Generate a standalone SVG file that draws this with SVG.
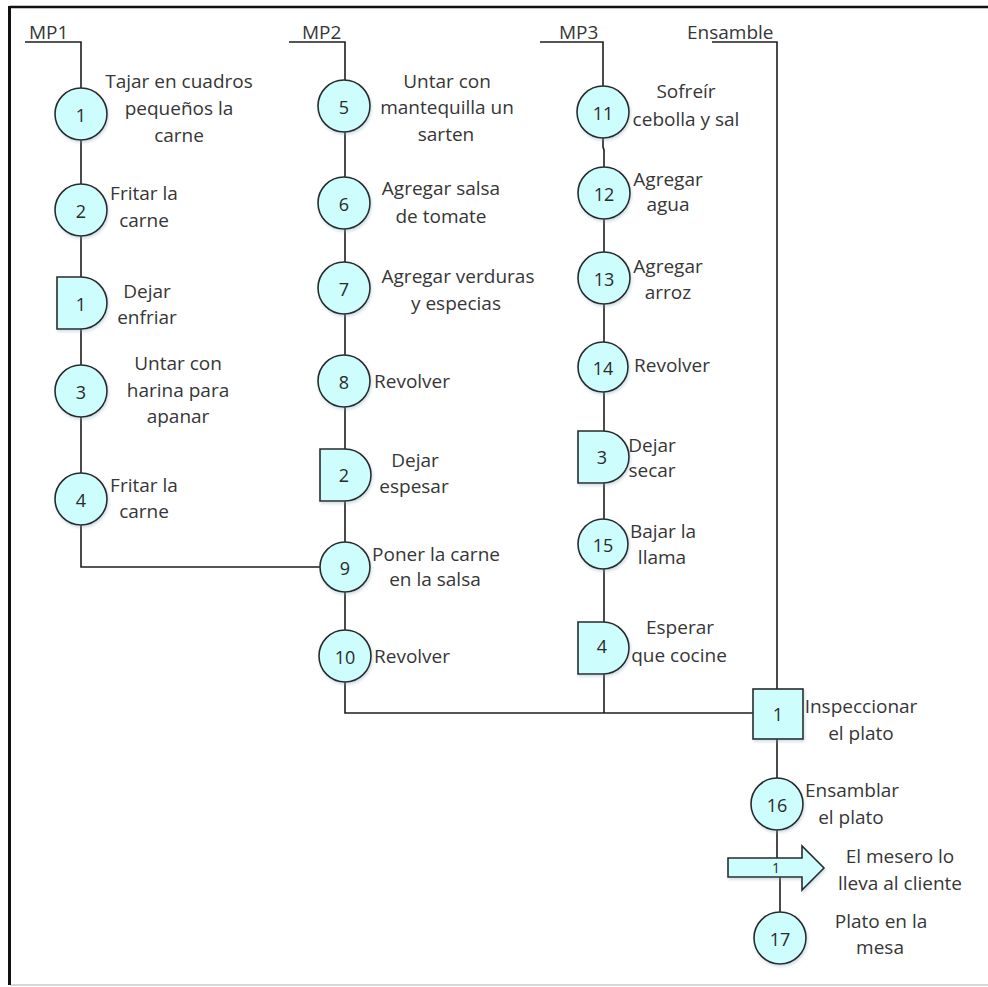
<svg xmlns="http://www.w3.org/2000/svg" width="988" height="987" viewBox="0 0 988 987">
  <style>
    .line { fill: none; stroke: #1e1e1e; stroke-width: 1.6; }
    .node { fill: #cdfdfd; stroke: #2a2a2a; stroke-width: 1.6; filter: url(#soft); }
    .num { font-family: "Open Sans", "Noto Sans", sans-serif; font-size: 18px; fill: #2a2a2a; text-anchor: middle; dominant-baseline: central; }
    .lbl { font-family: "Open Sans", "Noto Sans", sans-serif; font-size: 19px; fill: #363636; text-anchor: middle; }
    .left { text-anchor: start; }
    .head { font-family: "Open Sans", "Noto Sans", sans-serif; font-size: 19px; fill: #363636; }
  </style>
  <defs>
    <filter id="soft" x="-20%" y="-20%" width="150%" height="150%">
      <feDropShadow dx="1" dy="2" stdDeviation="1.5" flood-color="#7a9fb5" flood-opacity="0.35"/>
    </filter>
  </defs>

  <rect x="0" y="0" width="988" height="987" fill="#ffffff"/>

  <!-- page frame -->
  <g id="frame">
    <line x1="9.5" y1="7" x2="988" y2="7" stroke="#111" stroke-width="2.5"/>
    <line x1="9.5" y1="6" x2="9.5" y2="985" stroke="#111" stroke-width="3"/>
    <line x1="11" y1="985" x2="988" y2="985" stroke="#d8d8d8" stroke-width="2"/>
  </g>

  <!-- column headers -->
  <g id="headers">
    <text class="head" x="29" y="39">MP1</text>
    <text class="head" x="302" y="39">MP2</text>
    <text class="head" x="559" y="39">MP3</text>
    <text class="head" x="687" y="39">Ensamble</text>
  </g>

  <!-- connectors -->
  <g id="connectors">
    <path class="line" d="M25,42 H81 V567 H320"/>
    <path class="line" d="M289,42 H345 V713 H753"/>
    <path class="line" d="M540,42 H603 V147 L604,150 V713"/>
    <path class="line" d="M712,42 H777 V858"/>
    <path class="line" d="M780,877 V913"/>
  </g>

  <!-- MP1 column -->
  <g id="op1">
    <circle class="node" cx="81" cy="114" r="26"/>
    <text class="num" x="81" y="115">1</text>
    <text class="lbl" x="179" y="88">Tajar en cuadros</text>
    <text class="lbl" x="179" y="115">pequeños la</text>
    <text class="lbl" x="179" y="142">carne</text>
  </g>
  <g id="op2">
    <circle class="node" cx="81" cy="210" r="26"/>
    <text class="num" x="81" y="211">2</text>
    <text class="lbl" x="144" y="200">Fritar la</text>
    <text class="lbl" x="144" y="227">carne</text>
  </g>
  <g id="delay1">
    <path class="node" d="M57,277 H81 A26,26 0 0 1 81,329 H57 Z"/>
    <text class="num" x="81" y="304">1</text>
    <text class="lbl" x="147" y="298">Dejar</text>
    <text class="lbl" x="147" y="324">enfriar</text>
  </g>
  <g id="op3">
    <circle class="node" cx="81" cy="391" r="26"/>
    <text class="num" x="81" y="392">3</text>
    <text class="lbl" x="178" y="370">Untar con</text>
    <text class="lbl" x="178" y="397">harina para</text>
    <text class="lbl" x="178" y="423">apanar</text>
  </g>
  <g id="op4">
    <circle class="node" cx="81" cy="499" r="26"/>
    <text class="num" x="81" y="500">4</text>
    <text class="lbl" x="144" y="492">Fritar la</text>
    <text class="lbl" x="144" y="518">carne</text>
  </g>

  <!-- MP2 column -->
  <g id="op5">
    <circle class="node" cx="344" cy="106" r="26"/>
    <text class="num" x="344" y="107">5</text>
    <text class="lbl" x="447" y="88">Untar con</text>
    <text class="lbl" x="447" y="114">mantequilla un</text>
    <text class="lbl" x="446" y="141">sarten</text>
  </g>
  <g id="op6">
    <circle class="node" cx="344" cy="203" r="26"/>
    <text class="num" x="344" y="204">6</text>
    <text class="lbl" x="441" y="195">Agregar salsa</text>
    <text class="lbl" x="441" y="223">de tomate</text>
  </g>
  <g id="op7">
    <circle class="node" cx="344" cy="288" r="26"/>
    <text class="num" x="344" y="289">7</text>
    <text class="lbl" x="458" y="283">Agregar verduras</text>
    <text class="lbl" x="456" y="310">y especias</text>
  </g>
  <g id="op8">
    <circle class="node" cx="344" cy="381" r="26"/>
    <text class="num" x="344" y="382">8</text>
    <text class="lbl left" x="374" y="388">Revolver</text>
  </g>
  <g id="delay2">
    <path class="node" d="M320,449 H345 A26,26 0 0 1 345,501 H320 Z"/>
    <text class="num" x="344" y="475">2</text>
    <text class="lbl" x="415" y="467">Dejar</text>
    <text class="lbl" x="414" y="493">espesar</text>
  </g>
  <g id="op9">
    <circle class="node" cx="345" cy="567" r="25"/>
    <text class="num" x="345" y="568">9</text>
    <text class="lbl" x="436" y="561">Poner la carne</text>
    <text class="lbl" x="435" y="586">en la salsa</text>
  </g>
  <g id="op10">
    <circle class="node" cx="345" cy="656" r="26"/>
    <text class="num" x="345" y="657">10</text>
    <text class="lbl left" x="374" y="663">Revolver</text>
  </g>

  <!-- MP3 column -->
  <g id="op11">
    <circle class="node" cx="603" cy="112" r="26"/>
    <text class="num" x="603" y="113">11</text>
    <text class="lbl" x="686" y="98">Sofreír</text>
    <text class="lbl" x="686" y="126">cebolla y sal</text>
  </g>
  <g id="op12">
    <circle class="node" cx="604" cy="193" r="26"/>
    <text class="num" x="604" y="194">12</text>
    <text class="lbl" x="668" y="186">Agregar</text>
    <text class="lbl" x="668" y="211">agua</text>
  </g>
  <g id="op13">
    <circle class="node" cx="604" cy="278" r="26"/>
    <text class="num" x="604" y="279">13</text>
    <text class="lbl" x="668" y="273">Agregar</text>
    <text class="lbl" x="668" y="299">arroz</text>
  </g>
  <g id="op14">
    <circle class="node" cx="603" cy="367" r="25"/>
    <text class="num" x="603" y="368">14</text>
    <text class="lbl left" x="634" y="372">Revolver</text>
  </g>
  <g id="delay3">
    <path class="node" d="M578,431 H603 A26,26 0 0 1 603,483 H578 Z"/>
    <text class="num" x="602" y="457">3</text>
    <text class="lbl" x="652" y="452">Dejar</text>
    <text class="lbl" x="652" y="477">secar</text>
  </g>
  <g id="op15">
    <circle class="node" cx="603" cy="544" r="25"/>
    <text class="num" x="603" y="545">15</text>
    <text class="lbl" x="663" y="538">Bajar la</text>
    <text class="lbl" x="662" y="564">llama</text>
  </g>
  <g id="delay4">
    <path class="node" d="M578,622 H603 A26,26 0 0 1 603,674 H578 Z"/>
    <text class="num" x="602" y="646">4</text>
    <text class="lbl" x="680" y="634">Esperar</text>
    <text class="lbl" x="679" y="662">que cocine</text>
  </g>

  <!-- assembly column -->
  <g id="inspect1">
    <rect class="node" x="753" y="689" width="50" height="50"/>
    <text class="num" x="778" y="714">1</text>
    <text class="lbl" x="861" y="713">Inspeccionar</text>
    <text class="lbl" x="861" y="740">el plato</text>
  </g>
  <g id="op16">
    <circle class="node" cx="777" cy="804" r="26"/>
    <text class="num" x="777" y="805">16</text>
    <text class="lbl" x="852" y="797">Ensamblar</text>
    <text class="lbl" x="851" y="824">el plato</text>
  </g>
  <g id="transport1">
    <path class="node" d="M728,858 H802 V846 L824,868 L802,890 V877 H728 Z"/>
    <text class="num" x="776" y="867" style="font-size:14px">1</text>
    <text class="lbl" x="900" y="863">El mesero lo</text>
    <text class="lbl" x="900" y="890">lleva al cliente</text>
  </g>
  <g id="op17">
    <circle class="node" cx="780" cy="938" r="26"/>
    <text class="num" x="780" y="939">17</text>
    <text class="lbl" x="881" y="928">Plato en la</text>
    <text class="lbl" x="880" y="954">mesa</text>
  </g>
</svg>
